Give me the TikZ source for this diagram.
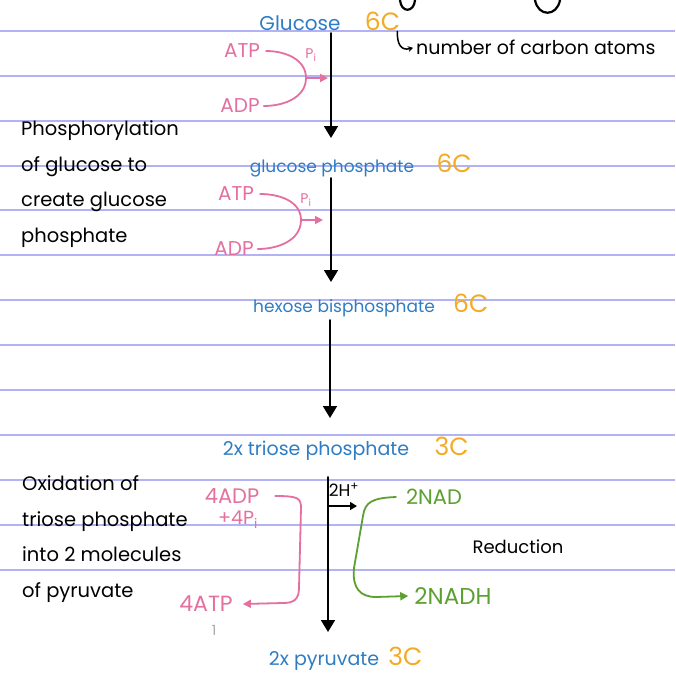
\documentclass[tikz,border=0pt]{standalone}
\usepackage{fontspec}
\setmainfont{Poppins}
\usetikzlibrary{arrows.meta,positioning}
\definecolor{nBlue}{RGB}{46,125,196}
\definecolor{nOrange}{RGB}{245,170,35}
\definecolor{nPink}{RGB}{228,112,160}
\definecolor{nGreen}{RGB}{92,160,48}
\definecolor{nRule}{RGB}{178,178,245}
\begin{document}
\begin{tikzpicture}[
  x=1pt,y=1pt,
  rule/.style={draw=nRule,line width=1.1pt},
  ink/.style={line width=1.8pt,line cap=round},
  chem/.style={inner sep=0pt,text=nBlue,font=\fontsize{17}{20}\selectfont},
  carb/.style={inner sep=0pt,text=nOrange,font=\fontsize{25}{28}\selectfont},
  note/.style={inner sep=0pt,align=left,font=\fontsize{19.5}{35.5}\selectfont},
  pk/.style={inner sep=0pt,text=nPink,font=\fontsize{20}{22}\selectfont},
  gn/.style={inner sep=0pt,text=nGreen,font=\fontsize{21}{24}\selectfont},
  sub/.style={inner sep=0pt,text=nPink,font=\fontsize{14}{16}\selectfont},
  arr/.style={ink,-{Triangle[length=12pt,width=14pt]}},
  barr/.style={ink,line width=1.5pt,-{Triangle[length=7pt,width=8pt]}},
  pline/.style={draw=nPink,line width=1.8pt,line cap=round},
  parr/.style={pline,-{Triangle[length=8pt,width=8pt]}},
  garr/.style={draw=nGreen,line width=1.8pt,line cap=round,-{Triangle[length=8pt,width=8pt]}}
  ]
  \fill[white] (0,0) rectangle (675,-677);
  \useasboundingbox (0,0) rectangle (675,-677);
  \foreach \ry in {31,76,121,166,210,255,300,345,390,435,480,525,570}
    \draw[rule] (0,-\ry) -- (675,-\ry);
  \draw[ink,line width=2.2pt] (400,0) .. controls (401,-13) and (414,-13) .. (415,0);
  \draw[ink,line width=2.2pt] (535,0) .. controls (538,-17) and (557,-17) .. (560,0);

  \coordinate (ax1) at (331,0);
  \coordinate (ax2) at (330,0);
  \coordinate (ax3) at (328,0);

  \node[chem,anchor=base,font=\fontsize{20}{22}\selectfont] (glc) at (300,-31) {Glucose};
  \node[carb,base right=24pt of glc] (glcC) {6C};
  \node[anchor=base west,inner sep=0pt,font=\fontsize{19}{22}\selectfont] (ncarb) at (416,-55) {number of carbon atoms};
  \node[chem,anchor=base] (gp) at (332,-172) {glucose phosphate};
  \node[carb,base right=22pt of gp] (gpC) {6C};
  \node[chem,anchor=base] (hbp) at (344,-312) {hexose bisphosphate};
  \node[carb,base right=18pt of hbp] (hbpC) {6C};
  \node[chem,anchor=base,font=\fontsize{19}{22}\selectfont] (tp) at (316,-455) {2x triose phosphate};
  \node[carb,base right=25pt of tp] (tpC) {3C};
  \node[chem,anchor=base,font=\fontsize{19}{22}\selectfont] (pyr) at (324,-665) {2x pyruvate};
  \node[carb,base right=9pt of pyr] (pyrC) {3C};

  \draw[ink,line width=1.5pt,-{Stealth[length=5pt,width=6pt]}] ([xshift=-3pt]glcC.south east) .. controls (397,-44) and (401,-51) .. ([xshift=-3pt]ncarb.west);

  \node[note,anchor=base west] (phos) at (21,-242) {Phosphorylation\\of glucose to\\create glucose\\phosphate};
  \node[note,anchor=base west] (oxid) at (22,-597) {Oxidation of\\triose phosphate\\into 2 molecules\\of pyruvate};
  \node[inner sep=0pt,font=\fontsize{18}{20}\selectfont] (red) at (518,-547) {Reduction};

  \draw[arr] ([yshift=-2pt]glc.base -| ax1) -- ([yshift=34pt]gp.base -| ax1);
  \draw[arr] ([yshift=-6pt]gp.base -| ax1) -- ([yshift=30pt]hbp.base -| ax1);
  \draw[arr] ([yshift=-8pt]hbp.base -| ax2) -- ([yshift=37pt]tp.base -| ax2);
  \draw[arr] ([yshift=-22pt]tp.base -| ax3) -- ([yshift=33pt]pyr.base -| ax3);

  \node[pk] (atp1) at (242,-51) {ATP};
  \node[pk] (adp1) at (240,-106) {ADP};
  \node[sub] (pi1) at (311,-55) {P\textsubscript{i}};
  \coordinate (pm1) at (306,-78);
  \draw[pline] ([xshift=6pt]atp1.east) to[out=0,in=90] (pm1) to[out=-90,in=0] ([xshift=4pt]adp1.east);
  \draw[parr] (pm1) -- ++(22,0);

  \node[pk] (atp2) at (236,-194) {ATP};
  \node[pk] (adp2) at (234,-249) {ADP};
  \node[sub] (pi2) at (306,-200) {P\textsubscript{i}};
  \coordinate (pm2) at (301,-220);
  \draw[pline] ([xshift=6pt]atp2.east) to[out=0,in=90] (pm2) to[out=-90,in=0] ([xshift=4pt]adp2.east);
  \draw[parr] (pm2) -- ++(22,0);

  \node[pk,font=\fontsize{21}{23}\selectfont] (adp4) at (232,-496) {4ADP};
  \node[pk,font=\fontsize{19}{21}\selectfont] (pi4) at (238,-520) {+4P\textsubscript{i}};
  \node[pk,font=\fontsize{22}{24}\selectfont] (atp4) at (206,-604) {4ATP};
  \draw[parr] ([xshift=16pt]adp4.east) .. controls (298,-496) and (301,-498) .. (301,-508) -- (299,-588) .. controls (299,-600) and (293,-603) .. (283,-603) -- ([xshift=10pt]atp4.east);

  \node[inner sep=0pt,font=\fontsize{17}{19}\selectfont] (hplus) at (344,-490) {2H\textsuperscript{+}};
  \draw[barr] (hplus.south -| ax3) ++(0,-9) -- ++(29,0);

  \node[gn] (nad) at (434,-497) {2NAD};
  \node[gn,font=\fontsize{23}{26}\selectfont] (nadh) at (453,-596) {2NADH};
  \draw[garr] ([xshift=-10pt]nad.west) .. controls (372,-498) and (365,-502) .. (363,-516) -- (354,-568) .. controls (352,-588) and (360,-597) .. (376,-597) -- ([xshift=-6pt]nadh.west);

  \node[inner sep=0pt,text=gray!70,font=\fontsize{14}{16}\selectfont] (pnum) at (214,-630) {1};
\end{tikzpicture}
\end{document}
